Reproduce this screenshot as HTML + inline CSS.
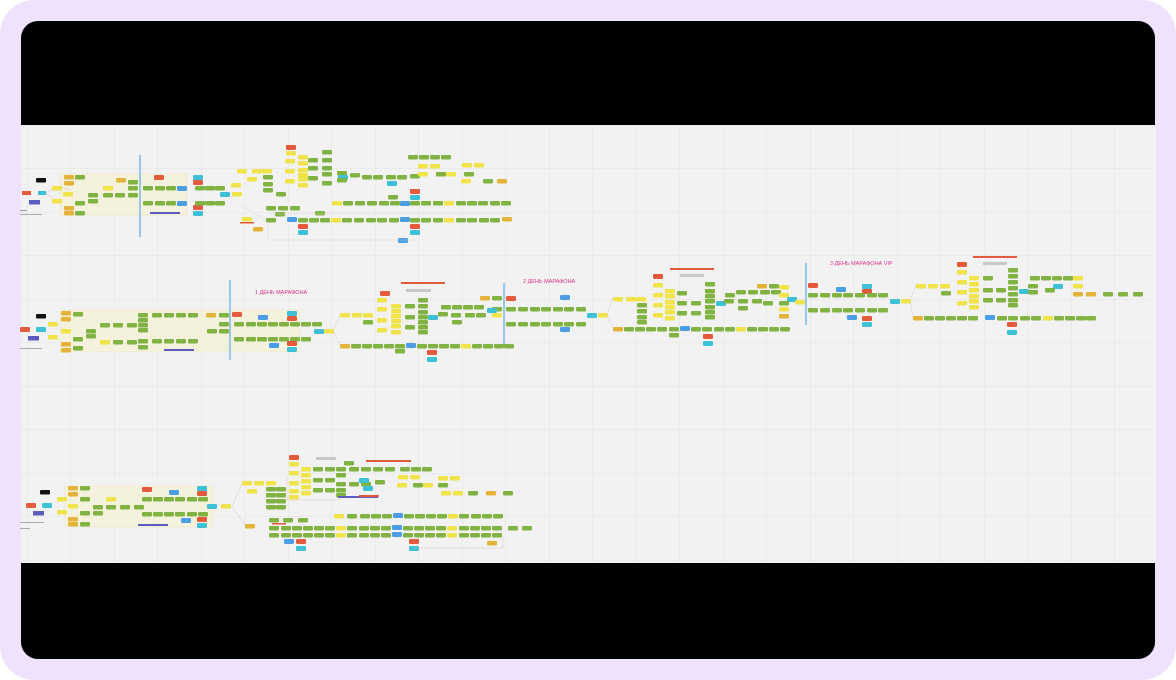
<!DOCTYPE html>
<html><head><meta charset="utf-8"><style>
html,body{margin:0;padding:0;background:#fff;width:1176px;height:680px;overflow:hidden}
svg{display:block}
.G{fill:#80b342}.Y{fill:#f0e44a}.R{fill:#e45a3c}.B{fill:#4b9ee6}.C{fill:#3ec0d6}.O{fill:#e4b43a}.P{fill:#5c5cc0}.K{fill:#111}
text{font-family:"Liberation Sans","Noto Sans CJK SC",sans-serif}
</style></head><body>
<svg width="1176" height="680" viewBox="0 0 1176 680" xmlns="http://www.w3.org/2000/svg">
<defs>
<pattern id="grid" width="43.5" height="43.5" patternUnits="userSpaceOnUse" x="27" y="125">
<path d="M0 0V43.5M0 0H43.5" stroke="#dedede" stroke-width="0.7" fill="none"/>
</pattern>
<rect id="g" width="10" height="4.5" rx="1.2" class="G"/>
<rect id="y" width="10" height="4.5" rx="1.2" class="Y"/>
<rect id="r" width="10" height="5" rx="1.2" class="R"/>
<rect id="b" width="10" height="5" rx="1.2" class="B"/>
<rect id="c" width="10" height="5" rx="1.2" class="C"/>
<rect id="o" width="10" height="4.5" rx="1.2" class="O"/>
</defs>
<rect x="0" y="0" width="1176" height="680" rx="34" fill="#efe2fd"/>
<rect x="21" y="21" width="1134" height="638" rx="17" fill="#000"/>
<rect x="21" y="125" width="1135" height="438" fill="#f2f2f2"/>
<rect x="21" y="125" width="1135" height="438" fill="url(#grid)"/>

<!-- ===== Section 1 ===== -->
<rect x="60" y="174" width="127" height="41" fill="#f4f1dc" stroke="#e8e2c4" stroke-width="0.5"/>
<line x1="140" y1="155" x2="140" y2="237" stroke="#6aaee8" stroke-width="1.3"/>
<rect x="22" y="191" width="9" height="4" class="R"/><rect x="38" y="191" width="8" height="4" class="C"/>
<rect x="36" y="178" width="10" height="4.5" rx="1" class="K"/><rect x="29" y="200" width="11" height="4.5" class="P"/>
<rect x="20" y="210" width="7" height="1" fill="#999"/><rect x="20" y="214" width="22" height="1" fill="#aaa"/>
<g stroke="#c9b0b0" stroke-width="0.4" fill="none"><path d="M46 193 L55 187 M46 193 L55 200 M60 187 L70 190"/></g>
<use href="#y" x="52" y="186"/><use href="#y" x="52" y="199"/>
<use href="#o" x="64" y="175"/><use href="#o" x="64" y="181"/><use href="#o" x="64" y="206"/><use href="#o" x="64" y="211"/>
<use href="#y" x="63" y="192"/>
<use href="#g" x="75" y="175"/><use href="#g" x="75" y="201"/><use href="#g" x="75" y="211"/><use href="#g" x="88" y="193"/><use href="#g" x="88" y="199"/>
<use href="#y" x="103" y="186"/><use href="#g" x="103" y="193"/><use href="#g" x="115" y="193"/><use href="#o" x="116" y="178"/>
<use href="#g" x="128" y="180"/><use href="#g" x="128" y="186"/><use href="#g" x="128" y="193"/>
<g><use href="#g" x="143" y="186"/><use href="#g" x="155" y="186"/><use href="#g" x="166" y="186"/><use href="#b" x="177" y="186"/>
<use href="#g" x="143" y="201"/><use href="#g" x="155" y="201"/><use href="#g" x="166" y="201"/><use href="#b" x="177" y="201"/></g>
<use href="#r" x="154" y="175"/>
<rect x="150" y="212" width="30" height="2" class="P"/>
<use href="#c" x="193" y="175"/><use href="#r" x="193" y="180"/><use href="#r" x="193" y="205"/><use href="#c" x="193" y="211"/>
<use href="#g" x="195" y="186"/><use href="#g" x="205" y="186"/><use href="#g" x="215" y="186"/>
<use href="#g" x="195" y="201"/><use href="#g" x="205" y="201"/><use href="#g" x="215" y="201"/>
<use href="#c" x="220" y="192"/><use href="#y" x="232" y="192"/>
<use href="#y" x="237" y="169"/><use href="#y" x="247" y="177"/><use href="#y" x="252" y="169"/><use href="#y" x="262" y="169"/><use href="#y" x="231" y="183"/><use href="#y" x="232" y="192"/>
<use href="#g" x="263" y="175"/><use href="#g" x="263" y="182"/><use href="#g" x="263" y="188"/><use href="#g" x="276" y="192"/>
<use href="#r" x="286" y="145"/>
<use href="#y" x="286" y="151"/><use href="#y" x="285" y="159"/><use href="#y" x="285" y="169"/><use href="#y" x="285" y="179"/>
<use href="#y" x="298" y="155"/><use href="#y" x="298" y="161"/><use href="#y" x="298" y="168"/><use href="#y" x="298" y="173"/><use href="#y" x="298" y="177"/><use href="#y" x="298" y="183"/>
<use href="#g" x="308" y="158"/><use href="#g" x="308" y="166"/><use href="#g" x="308" y="176"/>
<use href="#g" x="322" y="150"/><use href="#g" x="322" y="158"/><use href="#g" x="322" y="166"/><use href="#g" x="322" y="172"/><use href="#g" x="322" y="181"/>
<use href="#g" x="337" y="171"/><use href="#c" x="338" y="175"/><use href="#g" x="337" y="178"/><use href="#g" x="350" y="173"/>
<use href="#g" x="362" y="175"/><use href="#g" x="373" y="175"/><use href="#g" x="386" y="175"/><use href="#g" x="397" y="175"/><use href="#g" x="410" y="174"/><use href="#c" x="387" y="181"/>
<use href="#g" x="408" y="155"/><use href="#g" x="419" y="155"/><use href="#g" x="430" y="155"/><use href="#g" x="441" y="155"/>
<use href="#y" x="418" y="164"/><use href="#y" x="430" y="164"/><use href="#y" x="462" y="163"/><use href="#y" x="474" y="163"/>
<use href="#y" x="418" y="172"/><use href="#g" x="436" y="172"/><use href="#y" x="446" y="172"/><use href="#g" x="464" y="172"/>
<use href="#y" x="461" y="179"/><use href="#g" x="483" y="179"/><use href="#o" x="497" y="179"/>
<use href="#r" x="410" y="189"/><use href="#c" x="410" y="195"/>
<g><use href="#y" x="332" y="201"/><use href="#g" x="343" y="201"/><use href="#g" x="355" y="201"/><use href="#g" x="367" y="201"/><use href="#g" x="379" y="201"/><use href="#g" x="390" y="201"/><use href="#b" x="400" y="201"/><use href="#g" x="410" y="201"/><use href="#g" x="421" y="201"/><use href="#g" x="433" y="201"/><use href="#y" x="444" y="201"/><use href="#g" x="456" y="201"/><use href="#g" x="467" y="201"/><use href="#g" x="478" y="201"/><use href="#g" x="490" y="201"/><use href="#g" x="501" y="201"/></g>
<use href="#g" x="388" y="195"/>
<use href="#g" x="266" y="206"/><use href="#g" x="278" y="206"/><use href="#g" x="290" y="206"/><use href="#g" x="275" y="212"/><use href="#g" x="315" y="211"/>
<g><use href="#g" x="266" y="218"/><use href="#b" x="287" y="217"/><use href="#g" x="298" y="218"/><use href="#g" x="309" y="218"/><use href="#g" x="320" y="218"/><use href="#y" x="331" y="218"/><use href="#g" x="342" y="218"/><use href="#g" x="354" y="218"/><use href="#g" x="366" y="218"/><use href="#g" x="377" y="218"/><use href="#g" x="389" y="218"/><use href="#b" x="400" y="217"/><use href="#g" x="410" y="218"/><use href="#g" x="421" y="218"/><use href="#g" x="433" y="218"/><use href="#y" x="444" y="218"/><use href="#g" x="456" y="218"/><use href="#g" x="467" y="218"/><use href="#g" x="479" y="218"/><use href="#g" x="490" y="218"/><use href="#o" x="502" y="217"/></g>
<use href="#y" x="242" y="217"/><rect x="240" y="222" width="14" height="1.5" class="R"/><use href="#o" x="253" y="227"/>
<use href="#r" x="298" y="224"/><use href="#c" x="298" y="230"/><use href="#r" x="410" y="224"/><use href="#c" x="410" y="230"/><use href="#b" x="398" y="238"/>
<g stroke="#d8c8c8" stroke-width="0.4" fill="none"><path d="M268 222 V240 H415 M268 214 H510 M240 205 L265 220"/></g>

<!-- ===== Section 2 ===== -->
<rect x="60" y="310" width="240" height="42" fill="#f4f1dc" stroke="#e8e2c4" stroke-width="0.5"/>
<line x1="230" y1="280" x2="230" y2="360" stroke="#6aaee8" stroke-width="1.3"/>
<line x1="504" y1="283" x2="504" y2="345" stroke="#6aaee8" stroke-width="1.3"/>
<line x1="806" y1="263" x2="806" y2="325" stroke="#6aaee8" stroke-width="1.3"/>
<text x="255" y="294" font-size="5.5" fill="#d6308a">1 ДЕНЬ МАРАФОНА</text>
<text x="523" y="283" font-size="5.5" fill="#d6308a">2 ДЕНЬ МАРАФОНА</text>
<text x="830" y="265" font-size="5.5" fill="#d6308a">3 ДЕНЬ МАРАФОНА VIP</text>
<use href="#r" x="20" y="327"/><use href="#c" x="36" y="327"/><rect x="36" y="314" width="10" height="4.5" rx="1" class="K"/><rect x="28" y="336" width="11" height="4.5" class="P"/>
<rect x="20" y="348" width="22" height="1" fill="#aaa"/>
<use href="#y" x="48" y="322"/><use href="#y" x="48" y="335"/>
<use href="#o" x="61" y="311"/><use href="#o" x="61" y="317"/><use href="#o" x="61" y="342"/><use href="#o" x="61" y="348"/><use href="#y" x="61" y="329"/>
<use href="#g" x="73" y="312"/><use href="#g" x="73" y="337"/><use href="#g" x="73" y="346"/><use href="#g" x="86" y="329"/><use href="#g" x="86" y="334"/>
<use href="#g" x="100" y="323"/><use href="#g" x="113" y="323"/><use href="#g" x="127" y="323"/><use href="#g" x="113" y="340"/><use href="#g" x="127" y="340"/><use href="#y" x="100" y="340"/>
<use href="#g" x="138" y="313"/><use href="#g" x="138" y="318"/><use href="#g" x="138" y="323"/><use href="#g" x="138" y="328"/><use href="#g" x="138" y="339"/><use href="#g" x="138" y="345"/>
<use href="#g" x="152" y="313"/><use href="#g" x="164" y="313"/><use href="#g" x="176" y="313"/><use href="#g" x="188" y="313"/>
<use href="#g" x="152" y="339"/><use href="#g" x="164" y="339"/><use href="#g" x="176" y="339"/><use href="#g" x="188" y="339"/>
<rect x="164" y="349" width="30" height="2" class="P"/>
<use href="#o" x="206" y="313"/><use href="#g" x="219" y="313"/><use href="#g" x="219" y="322"/><use href="#g" x="207" y="329"/><use href="#g" x="219" y="329"/>
<use href="#r" x="232" y="312"/>
<g><use href="#g" x="234" y="322"/><use href="#g" x="246" y="322"/><use href="#g" x="257" y="322"/><use href="#g" x="268" y="322"/><use href="#g" x="279" y="322"/><use href="#g" x="290" y="322"/><use href="#g" x="301" y="322"/><use href="#g" x="312" y="322"/>
<use href="#g" x="234" y="337"/><use href="#g" x="246" y="337"/><use href="#g" x="257" y="337"/><use href="#g" x="268" y="337"/><use href="#g" x="279" y="337"/><use href="#g" x="290" y="337"/><use href="#g" x="301" y="337"/></g>
<use href="#b" x="258" y="315"/><use href="#c" x="287" y="311"/><use href="#r" x="287" y="316"/><use href="#r" x="287" y="341"/><use href="#c" x="287" y="347"/><use href="#b" x="269" y="343"/>
<use href="#c" x="314" y="329"/><use href="#y" x="324" y="329"/>
<use href="#y" x="340" y="313"/><use href="#y" x="352" y="313"/><use href="#y" x="363" y="313"/><use href="#g" x="363" y="320"/>
<use href="#r" x="380" y="291"/><use href="#y" x="377" y="298"/><use href="#y" x="377" y="307"/><use href="#y" x="377" y="318"/><use href="#y" x="377" y="328"/>
<use href="#y" x="391" y="304"/><use href="#y" x="391" y="309"/><use href="#y" x="391" y="314"/><use href="#y" x="391" y="319"/><use href="#y" x="391" y="324"/><use href="#y" x="391" y="330"/>
<use href="#g" x="405" y="304"/><use href="#g" x="405" y="315"/><use href="#g" x="405" y="325"/>
<use href="#g" x="418" y="298"/><use href="#g" x="418" y="304"/><use href="#g" x="418" y="310"/><use href="#g" x="418" y="315"/><use href="#g" x="418" y="320"/><use href="#g" x="418" y="325"/><use href="#g" x="418" y="330"/>
<rect x="401" y="282" width="44" height="2" class="R"/><rect x="406" y="289" width="25" height="3" fill="#c8c8c8"/>
<use href="#c" x="428" y="315"/>
<use href="#g" x="441" y="305"/><use href="#g" x="452" y="305"/><use href="#g" x="463" y="305"/><use href="#g" x="474" y="305"/>
<use href="#g" x="438" y="312"/><use href="#g" x="451" y="313"/><use href="#g" x="465" y="313"/><use href="#g" x="476" y="313"/><use href="#g" x="452" y="320"/>
<use href="#o" x="480" y="296"/><use href="#g" x="492" y="296"/><use href="#g" x="492" y="307"/><use href="#c" x="487" y="308"/><use href="#y" x="492" y="313"/>
<use href="#r" x="506" y="296"/><use href="#b" x="560" y="295"/><use href="#b" x="560" y="327"/>
<g><use href="#g" x="506" y="307"/><use href="#g" x="518" y="307"/><use href="#g" x="530" y="307"/><use href="#g" x="541" y="307"/><use href="#g" x="553" y="307"/><use href="#g" x="564" y="307"/><use href="#g" x="576" y="307"/>
<use href="#g" x="506" y="322"/><use href="#g" x="518" y="322"/><use href="#g" x="530" y="322"/><use href="#g" x="541" y="322"/><use href="#g" x="553" y="322"/><use href="#g" x="564" y="322"/><use href="#g" x="576" y="322"/></g>
<use href="#c" x="587" y="313"/><use href="#y" x="598" y="313"/>
<g><use href="#o" x="340" y="344"/><use href="#g" x="351" y="344"/><use href="#g" x="362" y="344"/><use href="#g" x="373" y="344"/><use href="#g" x="384" y="344"/><use href="#g" x="395" y="344"/><use href="#b" x="406" y="343"/><use href="#g" x="417" y="344"/><use href="#g" x="428" y="344"/><use href="#g" x="439" y="344"/><use href="#g" x="450" y="344"/><use href="#y" x="461" y="344"/><use href="#g" x="472" y="344"/><use href="#g" x="483" y="344"/><use href="#g" x="494" y="344"/><use href="#g" x="504" y="344"/></g>
<use href="#g" x="395" y="349"/><use href="#r" x="427" y="350"/><use href="#c" x="427" y="357"/>
<!-- day 2 right -->
<use href="#y" x="613" y="297"/><use href="#y" x="626" y="297"/><use href="#y" x="636" y="297"/>
<use href="#g" x="637" y="303"/><use href="#g" x="637" y="309"/><use href="#g" x="637" y="315"/><use href="#g" x="637" y="320"/>
<use href="#r" x="653" y="274"/><use href="#y" x="653" y="283"/><use href="#y" x="653" y="293"/><use href="#y" x="653" y="303"/><use href="#y" x="653" y="313"/>
<use href="#y" x="665" y="289"/><use href="#y" x="665" y="294"/><use href="#y" x="665" y="300"/><use href="#y" x="665" y="305"/><use href="#y" x="665" y="310"/><use href="#y" x="665" y="316"/>
<use href="#g" x="677" y="291"/><use href="#g" x="677" y="301"/><use href="#g" x="677" y="311"/><use href="#g" x="691" y="301"/><use href="#g" x="691" y="311"/>
<use href="#g" x="705" y="282"/><use href="#g" x="705" y="289"/><use href="#g" x="705" y="294"/><use href="#g" x="705" y="299"/><use href="#g" x="705" y="305"/><use href="#g" x="705" y="310"/><use href="#g" x="705" y="315"/>
<rect x="670" y="268" width="44" height="2" class="R"/><rect x="680" y="274" width="24" height="3" fill="#c8c8c8"/>
<use href="#c" x="716" y="301"/><use href="#g" x="725" y="293"/><use href="#g" x="736" y="290"/><use href="#g" x="748" y="290"/><use href="#g" x="760" y="290"/><use href="#g" x="771" y="290"/>
<use href="#g" x="724" y="299"/><use href="#g" x="738" y="299"/><use href="#g" x="752" y="299"/><use href="#g" x="738" y="306"/><use href="#g" x="763" y="301"/>
<use href="#o" x="757" y="284"/><use href="#g" x="769" y="284"/><use href="#y" x="779" y="285"/><use href="#y" x="779" y="293"/><use href="#c" x="787" y="297"/><use href="#g" x="779" y="301"/><use href="#y" x="779" y="307"/><use href="#o" x="779" y="314"/><use href="#y" x="795" y="300"/>
<g><use href="#o" x="613" y="327"/><use href="#g" x="624" y="327"/><use href="#g" x="635" y="327"/><use href="#g" x="646" y="327"/><use href="#g" x="657" y="327"/><use href="#g" x="669" y="327"/><use href="#b" x="680" y="326"/><use href="#g" x="691" y="327"/><use href="#g" x="702" y="327"/><use href="#g" x="714" y="327"/><use href="#g" x="725" y="327"/><use href="#y" x="736" y="327"/><use href="#g" x="747" y="327"/><use href="#g" x="758" y="327"/><use href="#g" x="769" y="327"/><use href="#g" x="780" y="327"/></g>
<use href="#g" x="669" y="333"/><use href="#r" x="703" y="334"/><use href="#c" x="703" y="341"/>
<!-- day 3 -->
<use href="#r" x="808" y="283"/><use href="#b" x="836" y="287"/><use href="#c" x="862" y="284"/><use href="#r" x="862" y="289"/><use href="#b" x="847" y="315"/><use href="#r" x="862" y="316"/><use href="#c" x="862" y="322"/>
<g><use href="#g" x="808" y="293"/><use href="#g" x="820" y="293"/><use href="#g" x="832" y="293"/><use href="#g" x="843" y="293"/><use href="#g" x="855" y="293"/><use href="#g" x="867" y="293"/><use href="#g" x="878" y="293"/>
<use href="#g" x="808" y="308"/><use href="#g" x="820" y="308"/><use href="#g" x="832" y="308"/><use href="#g" x="843" y="308"/><use href="#g" x="855" y="308"/><use href="#g" x="867" y="308"/><use href="#g" x="878" y="308"/></g>
<use href="#c" x="890" y="299"/><use href="#y" x="901" y="299"/>
<use href="#y" x="916" y="284"/><use href="#y" x="928" y="284"/><use href="#y" x="940" y="284"/><use href="#g" x="941" y="291"/>
<use href="#r" x="957" y="262"/><use href="#y" x="957" y="270"/><use href="#y" x="957" y="280"/><use href="#y" x="957" y="290"/><use href="#y" x="957" y="301"/>
<use href="#y" x="969" y="276"/><use href="#y" x="969" y="282"/><use href="#y" x="969" y="288"/><use href="#y" x="969" y="294"/><use href="#y" x="969" y="299"/><use href="#y" x="969" y="305"/>
<use href="#g" x="983" y="276"/><use href="#g" x="983" y="288"/><use href="#g" x="983" y="298"/><use href="#g" x="996" y="288"/><use href="#g" x="996" y="298"/>
<use href="#g" x="1008" y="268"/><use href="#g" x="1008" y="274"/><use href="#g" x="1008" y="280"/><use href="#g" x="1008" y="286"/><use href="#g" x="1008" y="292"/><use href="#g" x="1008" y="298"/><use href="#g" x="1008" y="303"/>
<rect x="973" y="256" width="44" height="2" class="R"/><rect x="983" y="262" width="24" height="3" fill="#c8c8c8"/>
<use href="#c" x="1019" y="289"/><use href="#g" x="1028" y="284"/><use href="#g" x="1028" y="290"/><use href="#c" x="1053" y="284"/><use href="#g" x="1045" y="288"/>
<use href="#g" x="1030" y="276"/><use href="#g" x="1041" y="276"/><use href="#g" x="1052" y="276"/><use href="#g" x="1063" y="276"/><use href="#y" x="1073" y="276"/><use href="#y" x="1073" y="284"/>
<use href="#o" x="1073" y="292"/><use href="#o" x="1086" y="292"/><use href="#g" x="1103" y="292"/><use href="#g" x="1118" y="292"/><use href="#g" x="1133" y="292"/>
<g><use href="#o" x="913" y="316"/><use href="#g" x="924" y="316"/><use href="#g" x="935" y="316"/><use href="#g" x="946" y="316"/><use href="#g" x="957" y="316"/><use href="#g" x="968" y="316"/><use href="#b" x="985" y="315"/><use href="#g" x="997" y="316"/><use href="#g" x="1008" y="316"/><use href="#g" x="1020" y="316"/><use href="#g" x="1031" y="316"/><use href="#y" x="1043" y="316"/><use href="#g" x="1054" y="316"/><use href="#g" x="1065" y="316"/><use href="#g" x="1076" y="316"/><use href="#g" x="1086" y="316"/></g>
<use href="#r" x="1007" y="322"/><use href="#c" x="1007" y="330"/>
<g stroke="#d0c0c0" stroke-width="0.4" fill="none"><path d="M333 331 L340 315 M333 331 L340 345 M607 315 L613 298 M607 315 L613 328 M910 301 L916 285 M910 301 L913 317"/></g>

<!-- ===== Section 3 ===== -->
<rect x="65" y="486" width="148" height="41" fill="#f4f1dc" stroke="#e8e2c4" stroke-width="0.5"/>
<use href="#r" x="26" y="503"/><use href="#c" x="42" y="503"/><rect x="40" y="490" width="10" height="4.5" rx="1" class="K"/><rect x="33" y="511" width="11" height="4.5" class="P"/>
<rect x="20" y="522" width="24" height="1" fill="#aaa"/><rect x="20" y="528" width="10" height="1" fill="#aaa"/>
<use href="#y" x="57" y="497"/><use href="#y" x="57" y="510"/>
<use href="#o" x="68" y="486"/><use href="#o" x="68" y="492"/><use href="#o" x="68" y="517"/><use href="#o" x="68" y="522"/><use href="#y" x="68" y="504"/>
<use href="#g" x="80" y="486"/><use href="#g" x="80" y="497"/><use href="#g" x="80" y="511"/><use href="#g" x="80" y="522"/>
<use href="#g" x="93" y="505"/><use href="#g" x="93" y="511"/><use href="#y" x="106" y="497"/><use href="#g" x="106" y="505"/><use href="#g" x="120" y="505"/><use href="#g" x="134" y="505"/>
<use href="#r" x="142" y="487"/><use href="#b" x="169" y="490"/><use href="#c" x="197" y="486"/><use href="#r" x="197" y="491"/><use href="#b" x="181" y="518"/><use href="#r" x="197" y="517"/><use href="#c" x="197" y="523"/>
<g><use href="#g" x="142" y="497"/><use href="#g" x="153" y="497"/><use href="#g" x="164" y="497"/><use href="#g" x="175" y="497"/><use href="#g" x="187" y="497"/><use href="#g" x="198" y="497"/>
<use href="#g" x="142" y="512"/><use href="#g" x="153" y="512"/><use href="#g" x="164" y="512"/><use href="#g" x="175" y="512"/><use href="#g" x="187" y="512"/><use href="#g" x="198" y="512"/></g>
<rect x="138" y="524" width="30" height="2" class="P"/>
<use href="#c" x="207" y="504"/><use href="#y" x="221" y="504"/>
<use href="#y" x="242" y="481"/><use href="#y" x="254" y="481"/><use href="#y" x="266" y="481"/><use href="#y" x="247" y="489"/>
<use href="#g" x="266" y="487"/><use href="#g" x="276" y="487"/><use href="#g" x="266" y="493"/><use href="#g" x="276" y="493"/><use href="#g" x="266" y="499"/><use href="#g" x="276" y="499"/><use href="#g" x="266" y="505"/><use href="#g" x="276" y="505"/>
<use href="#r" x="289" y="455"/><use href="#y" x="289" y="462"/><use href="#y" x="289" y="471"/><use href="#y" x="289" y="481"/><use href="#y" x="289" y="489"/><use href="#y" x="289" y="495"/>
<use href="#y" x="301" y="467"/><use href="#y" x="301" y="473"/><use href="#y" x="301" y="479"/><use href="#y" x="301" y="485"/><use href="#y" x="301" y="491"/>
<use href="#g" x="313" y="467"/><use href="#g" x="313" y="478"/><use href="#g" x="313" y="488"/><use href="#g" x="325" y="467"/><use href="#g" x="325" y="478"/><use href="#g" x="325" y="488"/>
<use href="#g" x="336" y="467"/><use href="#g" x="336" y="473"/><use href="#g" x="336" y="482"/><use href="#g" x="336" y="488"/><use href="#g" x="336" y="493"/><use href="#g" x="344" y="461"/>
<rect x="316" y="457" width="20" height="3" fill="#c8c8c8"/><rect x="366" y="460" width="45" height="2" class="R"/>
<rect x="338" y="496" width="40" height="2" class="P"/><rect x="359" y="495" width="20" height="2" class="R"/>
<use href="#g" x="349" y="467"/><use href="#g" x="361" y="467"/><use href="#g" x="373" y="467"/><use href="#g" x="385" y="467"/><use href="#g" x="400" y="467"/><use href="#g" x="411" y="467"/><use href="#g" x="422" y="467"/>
<use href="#g" x="349" y="482"/><use href="#g" x="361" y="482"/><use href="#g" x="375" y="480"/><use href="#c" x="363" y="486"/><use href="#c" x="359" y="478"/>
<use href="#y" x="398" y="475"/><use href="#y" x="410" y="475"/><use href="#y" x="397" y="483"/><use href="#g" x="413" y="483"/><use href="#y" x="423" y="483"/><use href="#y" x="438" y="476"/><use href="#y" x="450" y="476"/><use href="#g" x="438" y="483"/>
<use href="#y" x="441" y="491"/><use href="#y" x="453" y="491"/><use href="#g" x="468" y="491"/><use href="#o" x="486" y="491"/><use href="#g" x="503" y="491"/>
<g><use href="#y" x="334" y="514"/><use href="#g" x="347" y="514"/><use href="#g" x="360" y="514"/><use href="#g" x="371" y="514"/><use href="#g" x="382" y="514"/><use href="#b" x="393" y="513"/><use href="#g" x="404" y="514"/><use href="#g" x="415" y="514"/><use href="#g" x="426" y="514"/><use href="#g" x="437" y="514"/><use href="#y" x="448" y="514"/><use href="#g" x="459" y="514"/><use href="#g" x="471" y="514"/><use href="#g" x="482" y="514"/><use href="#g" x="493" y="514"/></g>
<use href="#g" x="269" y="518"/><use href="#g" x="283" y="518"/><use href="#g" x="298" y="518"/>
<use href="#o" x="245" y="524"/><rect x="272" y="523" width="14" height="1.5" class="R"/>
<g><use href="#g" x="269" y="526"/><use href="#g" x="281" y="526"/><use href="#g" x="292" y="526"/><use href="#g" x="303" y="526"/><use href="#g" x="314" y="526"/><use href="#g" x="325" y="526"/><use href="#y" x="336" y="526"/><use href="#g" x="347" y="526"/><use href="#g" x="359" y="526"/><use href="#g" x="370" y="526"/><use href="#g" x="381" y="526"/><use href="#b" x="392" y="525"/><use href="#g" x="403" y="526"/><use href="#g" x="414" y="526"/><use href="#g" x="425" y="526"/><use href="#g" x="436" y="526"/><use href="#y" x="447" y="526"/><use href="#g" x="459" y="526"/><use href="#g" x="470" y="526"/><use href="#g" x="481" y="526"/><use href="#g" x="492" y="526"/><use href="#g" x="508" y="526"/><use href="#g" x="522" y="526"/></g>
<g><use href="#g" x="269" y="533"/><use href="#g" x="281" y="533"/><use href="#g" x="292" y="533"/><use href="#g" x="303" y="533"/><use href="#g" x="314" y="533"/><use href="#g" x="325" y="533"/><use href="#y" x="336" y="533"/><use href="#g" x="347" y="533"/><use href="#g" x="359" y="533"/><use href="#g" x="370" y="533"/><use href="#g" x="381" y="533"/><use href="#b" x="392" y="532"/><use href="#g" x="403" y="533"/><use href="#g" x="414" y="533"/><use href="#g" x="425" y="533"/><use href="#g" x="436" y="533"/><use href="#y" x="447" y="533"/><use href="#g" x="459" y="533"/><use href="#g" x="470" y="533"/><use href="#g" x="481" y="533"/><use href="#g" x="492" y="533"/></g>
<use href="#b" x="284" y="539"/><use href="#r" x="296" y="539"/><use href="#c" x="296" y="546"/><use href="#r" x="409" y="539"/><use href="#c" x="409" y="546"/><use href="#o" x="487" y="541"/>
<g stroke="#d0c0c0" stroke-width="0.4" fill="none"><path d="M232 506 L242 484 M232 506 L245 526 M413 548 H503 V536 M287 475 V500 H340"/></g>
</svg>
</body></html>
